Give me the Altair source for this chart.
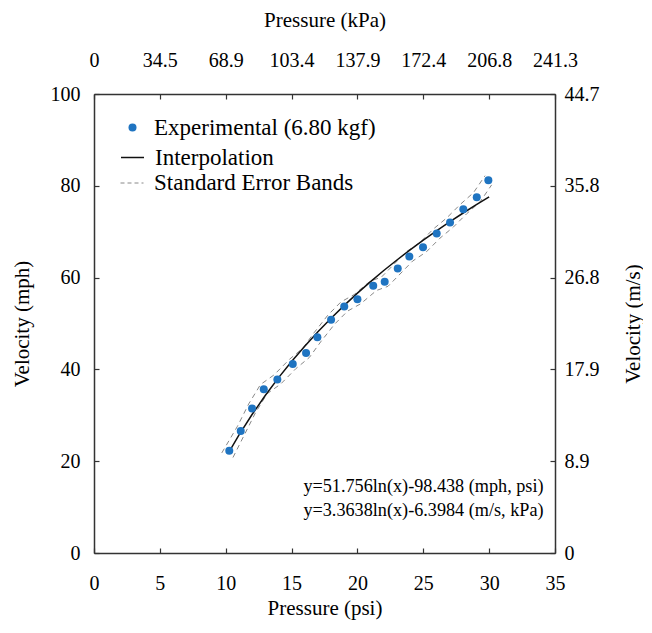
import altair as alt
import pandas as pd

# Experimental points (psi, mph)
psi_points = [10.27, 11.14, 12.0, 12.89, 13.92, 15.09, 16.1, 16.96, 18.0, 19.0, 20.0,
              21.2, 22.07, 23.06, 23.94, 24.98, 26.02, 27.03, 28.04, 29.06, 29.94]
mph_points = [22.3, 26.6, 31.5, 35.7, 37.8, 41.2, 43.6, 47.0, 50.8, 53.7, 55.3,
              58.2, 59.1, 62.0, 64.6, 66.6, 69.6, 72.0, 74.9, 77.5, 81.2]

# Interpolation curve
fit_psi = [10.2, 11, 12, 13, 14, 15, 16, 17, 18, 19, 20, 21, 22, 23, 24, 25, 26, 27, 28, 29, 30]
fit_mph = [21.76, 25.67, 30.17, 34.31, 38.15, 41.72, 45.06, 48.20, 51.16, 53.95, 56.61,
           59.13, 61.54, 63.84, 66.05, 68.16, 70.19, 72.14, 74.02, 75.84, 77.59]

# Standard error bands
upper_psi = [9.7, 10.89, 11.75, 12.64, 13.67, 14.84, 15.85, 16.71, 17.75, 18.75, 19.75,
             20.95, 21.82, 22.81, 23.69, 24.73, 25.77, 26.78, 27.79, 28.81, 29.69]
upper_mph = [21.8, 27.6, 32.5, 36.7, 38.8, 42.2, 44.6, 48.0, 51.8, 54.7, 56.3,
             59.2, 60.1, 63.0, 65.6, 67.6, 70.6, 73.0, 75.9, 78.5, 82.2]
lower_psi = [10.55, 11.39, 12.25, 13.14, 14.17, 15.34, 16.35, 17.21, 18.25, 19.25, 20.25,
             21.45, 22.32, 23.31, 24.19, 25.23, 26.27, 27.28, 28.29, 29.31, 30.19]
lower_mph = [20.8, 25.6, 30.5, 34.7, 36.8, 40.2, 42.6, 46.0, 49.8, 52.7, 54.3,
             57.2, 58.1, 61.0, 63.6, 65.6, 68.6, 71.0, 73.9, 76.5, 80.2]

x_ticks = [0, 5, 10, 15, 20, 25, 30, 35]
y_ticks = [0, 20, 40, 60, 80, 100]

eq_lines = ["y=51.756ln(x)-98.438 (mph, psi)", "y=3.3638ln(x)-6.3984 (m/s, kPa)"]
eq_x = [15.9, 15.9]
eq_y = [14.3, 9.1]

FONT = "Liberation Serif"
FS = 20     # tick labels
TFS = 21    # axis titles
LFS = 23    # legend
EFS = 18.2  # equations
INWARD = {"expr": "-5"}

pts = pd.DataFrame({"psi": psi_points, "mph": mph_points, "s": "Experimental (6.80 kgf)"})
fit = pd.DataFrame({"psi": fit_psi, "mph": fit_mph, "s": "Interpolation"})
bands = pd.concat([
    pd.DataFrame({"psi": upper_psi, "mph": upper_mph, "band": "upper"}),
    pd.DataFrame({"psi": lower_psi, "mph": lower_mph, "band": "lower"}),
])
bands["s"] = "Standard Error Bands"
eqs = pd.DataFrame({"t": eq_lines, "psi": eq_x, "mph": eq_y})

xs = alt.Scale(domain=[0, 35], nice=False, zero=False)
ys = alt.Scale(domain=[0, 100], nice=False, zero=False)

W, H = 461, 459

base_axis = dict(labelFont=FONT, labelFontSize=FS, titleFont=FONT, titleFontSize=TFS,
                 titleFontWeight="normal", labelColor="black", titleColor="black",
                 domainColor="#333", domainWidth=1.5, tickColor="#333", tickWidth=1.2,
                 tickSize=INWARD, grid=False, labelOverlap=False, labelFlush=False,
                 titleBaseline="middle")

band_layer = alt.Chart(bands).mark_line(strokeDash=[5, 4], strokeWidth=1).encode(
    x=alt.X("psi:Q", scale=xs, axis=alt.Axis(orient="bottom", values=x_ticks, title="Pressure (psi)",
                                             labelPadding=25, titleY=55, titleX=W / 2, **base_axis)),
    y=alt.Y("mph:Q", scale=ys, axis=alt.Axis(orient="left", values=y_ticks, title="Velocity (mph)",
                                             labelPadding=19, titleX=-72, titleY=H / 2,
                                             titleAngle=270, **base_axis)),
    detail="band:N",
    color=alt.Color("s:N", scale=alt.Scale(domain=["Standard Error Bands"], range=["#888888"]),
                    legend=alt.Legend(title=None, orient="none", legendX=26, legendY=77,
                                      symbolType="stroke", symbolSize=529, symbolDash=[4, 3],
                                      symbolStrokeWidth=1, labelOffset=10)),
)

fit_layer = alt.Chart(fit).mark_line(strokeWidth=1.5).encode(
    x=alt.X("psi:Q", scale=xs, axis=alt.Axis(orient="top", values=x_ticks, title="Pressure (kPa)",
                                             labelExpr="datum.value == 0 ? '0' : format(datum.value * 6.89476, '.1f')",
                                             labelPadding=29, titleY=-74, titleX=W / 2, **base_axis)),
    y=alt.Y("mph:Q", scale=ys, axis=alt.Axis(orient="right", values=y_ticks, title="Velocity (m/s)",
                                             labelExpr="datum.value == 0 ? '0' : format(datum.value * 0.44704, '.1f')",
                                             labelPadding=14, titleX=78, titleY=H / 2,
                                             titleAngle=270, **base_axis)),
    color=alt.Color("s:N", scale=alt.Scale(domain=["Interpolation"], range=["#111111"]),
                    legend=alt.Legend(title=None, orient="none", legendX=26, legendY=51,
                                      symbolType="stroke", symbolSize=529,
                                      symbolStrokeWidth=1.5, labelOffset=10)),
)

pt_layer = alt.Chart(pts).mark_circle(size=64, opacity=1).encode(
    x=alt.X("psi:Q", scale=xs, axis=None),
    y=alt.Y("mph:Q", scale=ys, axis=None),
    color=alt.Color("s:N", scale=alt.Scale(domain=["Experimental (6.80 kgf)"], range=["#1f74c1"]),
                    legend=alt.Legend(title=None, orient="none", legendX=27, legendY=22,
                                      symbolType="circle", symbolSize=64, labelOffset=10)),
)

eq_layer = alt.Chart(eqs).mark_text(align="left", baseline="middle", font=FONT, fontSize=EFS,
                                    color="black").encode(
    x=alt.X("psi:Q", scale=xs, axis=None),
    y=alt.Y("mph:Q", scale=ys, axis=None),
    text="t:N",
)

chart = alt.layer(band_layer, fit_layer, pt_layer, eq_layer).resolve_scale(
    color="independent"
).resolve_axis(x="independent", y="independent").properties(
    width=W, height=H,
    autosize=alt.AutoSizeParams(type="none"),
    padding={"left": 86, "top": 86, "right": 88, "bottom": 70},
).configure_legend(
    labelFont=FONT, labelFontSize=LFS, labelColor="black", padding=0, labelLimit=0
).configure_view(stroke=None)

chart.save("out.html", embed_options={"renderer": "svg", "actions": False})
